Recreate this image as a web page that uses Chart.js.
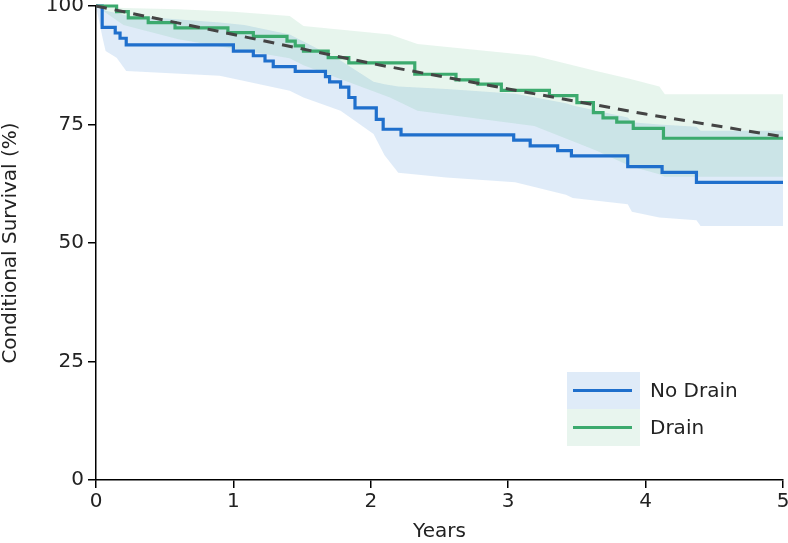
<!DOCTYPE html>
<html>
<head>
<meta charset="utf-8">
<script src="https://cdn.jsdelivr.net/npm/chart.js@4"></script>
<style>
  body { margin: 0; background: #fff; }
  #wrap { position: relative; width: 788px; height: 543px; }
  .leg { position: absolute; font-family: "DejaVu Sans", Verdana, sans-serif; font-size: 20px; color: #222; }
  .leg .bg { position: absolute; width: 73px; height: 37px; }
  .leg .ln { position: absolute; left: 6px; top: 17px; width: 59px; height: 3px; }
  .leg .tx { position: absolute; left: 83px; top: 6px; white-space: nowrap; }
</style>
</head>
<body>
<div id="wrap">
  <canvas id="grafico" width="788" height="543"></canvas>
  <div class="leg" style="left:567px; top:372px;">
    <div class="bg" style="background:#dfebf8"></div>
    <div class="ln" style="background:#1f6fcc"></div>
    <div class="tx">No Drain</div>
  </div>
  <div class="leg" style="left:567px; top:409px;">
    <div class="bg" style="background:#e8f5ee"></div>
    <div class="ln" style="background:#3caa6e"></div>
    <div class="tx">Drain</div>
  </div>
</div>
<script>
// Curvas de supervivencia (años, %)
const tiemposSinDren = [0, 0.045, 0.14, 0.175, 0.22, 1.0, 1.145, 1.23, 1.29, 1.45, 1.67, 1.70, 1.78, 1.84, 1.885, 2.04, 2.09, 2.22, 3.04, 3.16, 3.36, 3.46, 3.87, 4.12, 4.37, 5];
const valoresSinDren = [100, 95.5, 94.3, 93.2, 91.8, 90.5, 89.5, 88.4, 87.2, 86.2, 85.1, 84.0, 82.9, 80.7, 78.5, 76.1, 74.0, 72.8, 71.7, 70.5, 69.5, 68.4, 66.1, 64.9, 62.8, 62.8];

const tiemposDren = [0, 0.15, 0.235, 0.38, 0.575, 0.96, 1.145, 1.39, 1.45, 1.51, 1.69, 1.84, 2.32, 2.62, 2.78, 2.95, 3.30, 3.50, 3.62, 3.69, 3.79, 3.91, 4.13, 5];
const valoresDren = [100, 98.8, 97.5, 96.5, 95.4, 94.4, 93.6, 92.6, 91.6, 90.5, 89.1, 88.0, 85.6, 84.4, 83.5, 82.2, 81.1, 79.6, 77.5, 76.4, 75.5, 74.2, 72.1, 72.1];

// Intervalos de confianza
const tiemposBandaSinDren = [0, 0.05, 0.07, 0.15, 0.22, 0.9, 1.08, 1.41, 1.51, 1.78, 2.02, 2.1, 2.2, 2.55, 3.05, 3.42, 3.47, 3.87, 3.9, 4.1, 4.37, 4.4, 5];
const superiorSinDren = [100, 99.5, 99, 98.5, 98, 96.5, 96, 94, 92.5, 88.5, 84, 83.5, 83, 82.5, 81.5, 79.5, 79, 76.5, 75.5, 75, 74.5, 73.7, 73.7];
const inferiorSinDren = [100, 93, 90.5, 89.1, 86.3, 85.3, 84.2, 82.1, 80.7, 77.9, 73.0, 68.5, 64.8, 63.8, 62.8, 60.2, 59.5, 58.2, 56.6, 55.4, 54.8, 53.6, 53.6];

const tiemposBandaDren = [0, 0.2, 0.6, 1.0, 1.41, 1.51, 2.14, 2.34, 3.19, 3.64, 3.89, 4.1, 4.14, 5];
const superiorDren = [100, 99.6, 99.3, 98.8, 97.9, 95.8, 94.0, 92.0, 89.5, 86.3, 84.6, 83.0, 81.4, 81.4];
const inferiorDren = [100, 96, 93, 91, 89, 87.5, 80.7, 77.9, 74.7, 69.5, 66.2, 64.5, 64.0, 64.0];

// Supervivencia esperada
const tiemposEsperada = [0, 1, 2, 3, 4, 5];
const valoresEsperada = [100, 94.0, 87.9, 82.5, 77.2, 72.4];

const ticksX = [0, 1, 2, 3, 4, 5];
const ticksY = [0, 25, 50, 75, 100];

function puntos(xs, ys) {
    return xs.map((x, i) => ({ x: x, y: ys[i] }));
}

const fuente = { family: '"DejaVu Sans", Verdana, sans-serif', size: 20 };

const ctx = document.getElementById('grafico').getContext('2d');
new Chart(ctx, {
    type: 'line',
    data: {
        datasets: [
            {
                label: 'Expected',
                data: puntos(tiemposEsperada, valoresEsperada),
                borderColor: '#444444',
                borderWidth: 3,
                borderDash: [11, 8],
                pointRadius: 0,
                fill: false,
                clip: false,
                order: 0
            },
            {
                label: 'No Drain',
                data: puntos(tiemposSinDren, valoresSinDren),
                borderColor: '#1f6fcc',
                borderWidth: 3.2,
                stepped: true,
                pointRadius: 0,
                fill: false,
                clip: false,
                order: 2
            },
            {
                label: 'Drain',
                data: puntos(tiemposDren, valoresDren),
                borderColor: '#3caa6e',
                borderWidth: 3.2,
                stepped: true,
                pointRadius: 0,
                fill: false,
                clip: false,
                order: 1
            },
            {
                label: 'sup sin dren',
                data: puntos(tiemposBandaSinDren, superiorSinDren),
                borderColor: 'transparent',
                borderWidth: 0,
                pointRadius: 0,
                backgroundColor: 'rgba(31, 111, 204, 0.14)',
                fill: '+1',
                order: 4
            },
            {
                label: 'inf sin dren',
                data: puntos(tiemposBandaSinDren, inferiorSinDren),
                borderColor: 'transparent',
                borderWidth: 0,
                pointRadius: 0,
                fill: false,
                order: 5
            },
            {
                label: 'sup dren',
                data: puntos(tiemposBandaDren, superiorDren),
                borderColor: 'transparent',
                borderWidth: 0,
                pointRadius: 0,
                backgroundColor: 'rgba(60, 170, 110, 0.12)',
                fill: '+1',
                order: 3
            },
            {
                label: 'inf dren',
                data: puntos(tiemposBandaDren, inferiorDren),
                borderColor: 'transparent',
                borderWidth: 0,
                pointRadius: 0,
                fill: false,
                order: 6
            }
        ]
    },
    options: {
        responsive: false,
        animation: false,
        devicePixelRatio: 1,
        layout: { padding: { top: 6, right: 5, left: 0, bottom: 0 } },
        plugins: {
            legend: { display: false },
            tooltip: { enabled: false }
        },
        scales: {
            x: {
                type: 'linear',
                min: 0,
                max: 5,
                afterBuildTicks: function(scale) {
                    scale.ticks = ticksX.map(v => ({ value: v }));
                },
                afterFit: function(scale) {
                    scale.height = 63;
                    scale.paddingLeft = 0;
                    scale.paddingRight = 0;
                },
                ticks: { color: '#222', font: fuente, padding: 2, maxRotation: 0 },
                grid: { display: true, drawOnChartArea: false, drawTicks: true, tickLength: 8, color: '#000', lineWidth: 1.5 },
                border: { display: true, color: '#000', width: 1.5 },
                title: { display: true, text: 'Years', color: '#222', font: { family: fuente.family, size: 20, lineHeight: 1.1 }, padding: { top: 0, bottom: 0 } }
            },
            y: {
                min: 0,
                max: 100,
                afterBuildTicks: function(scale) {
                    scale.ticks = ticksY.map(v => ({ value: v }));
                },
                afterFit: function(scale) {
                    scale.width = 96;
                    scale.paddingTop = 0;
                    scale.paddingBottom = 0;
                },
                ticks: { color: '#222', font: fuente, padding: 4 },
                grid: { display: true, drawOnChartArea: false, drawTicks: true, tickLength: 8, color: '#000', lineWidth: 1.5 },
                border: { display: true, color: '#000', width: 1.5 },
                title: { display: true, text: 'Conditional Survival (%)', color: '#222', font: { family: fuente.family, size: 20, lineHeight: 1.1 }, padding: { top: 0, bottom: 0 } }
            }
        }
    }
});
</script>
</body>
</html>
